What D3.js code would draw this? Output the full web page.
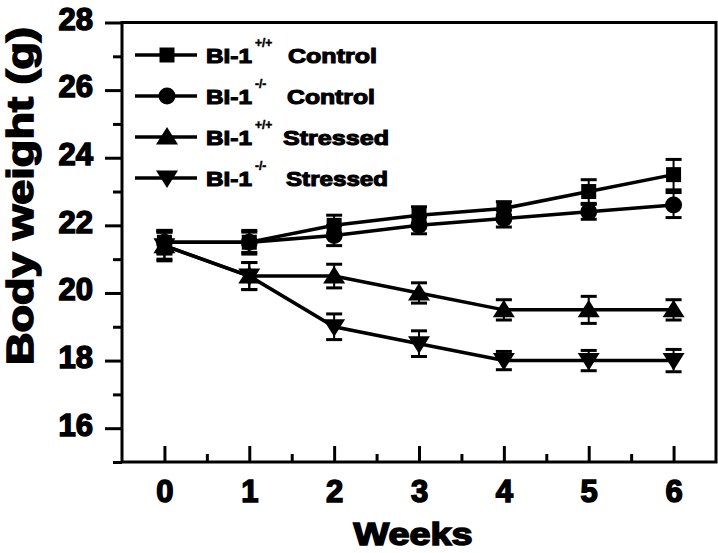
<!DOCTYPE html>
<html>
<head>
<meta charset="utf-8">
<script src="https://cdn.jsdelivr.net/npm/d3@7"></script>
<style>
  body { margin: 0; background: #fff; }
  text { font-family: "Liberation Sans", Arial, sans-serif; font-weight: bold; fill: #000; }
</style>
</head>
<body>
<div id="chart"></div>
<script>
// weeks on the x axis
var weeks = [0, 1, 2, 3, 4, 5, 6];
var yTicks = [16, 18, 20, 22, 24, 26, 28];

// mean body weight (g) and error per group
var wtControl = [21.5, 21.5, 22.0, 22.3, 22.5, 23.0, 23.5];
var wtControlErr = [0.35, 0.3, 0.3, 0.25, 0.2, 0.35, 0.45];
var koControl = [21.5, 21.5, 21.7, 22.0, 22.2, 22.4, 22.6];
var koControlErr = [0.3, 0.35, 0.3, 0.25, 0.25, 0.22, 0.37];
var wtStressed = [21.4, 20.5, 20.5, 20.0, 19.5, 19.5, 19.5];
var wtStressedErr = [0.4, 0.4, 0.35, 0.3, 0.3, 0.4, 0.3];
var koStressed = [21.4, 20.5, 19.0, 18.5, 18.0, 18.0, 18.0];
var koStressedErr = [0.45, 0.4, 0.38, 0.38, 0.27, 0.3, 0.33];

var series = [
    { sup: "+/+", label: "Control", shape: "square", values: wtControl, err: wtControlErr },
    { sup: "-/-", label: "Control", shape: "circle", values: koControl, err: koControlErr },
    { sup: "+/+", label: "Stressed", shape: "up", values: wtStressed, err: wtStressedErr },
    { sup: "-/-", label: "Stressed", shape: "down", values: koStressed, err: koStressedErr }
];

var W = 718, H = 553;
var margin = { left: 122, right: 716, top: 22.5, bottom: 462 };

var svg = d3.select("#chart").append("svg")
    .attr("width", W)
    .attr("height", H);

var x = d3.scaleLinear().domain([-0.5, 6.5]).range([margin.left, margin.right]);
var y = d3.scaleLinear().domain([15, 28]).range([margin.bottom, margin.top]);

// marker path for each shape
function markerPath(shape) {
    switch (shape) {
        case "square": return "M-7.5,-7.5H7.5V7.5H-7.5Z";
        case "circle": return "M8.5,0A8.5,8.5 0 1,1 -8.5,0A8.5,8.5 0 1,1 8.5,0Z";
        case "up": return "M0,-10L11,7.5H-11Z";
        case "down": return "M0,10L11,-7.5H-11Z";
    }
}

// axes (ticks drawn by d3, then thickened)
var yAxis = d3.axisLeft(y).tickValues(yTicks).tickSize(17).tickFormat(d3.format("d")).tickPadding(12);
var yMinor = d3.axisLeft(y).tickValues(d3.range(15, 28, 2)).tickSize(9).tickFormat("");
var xAxis = d3.axisBottom(x).tickValues(weeks).tickSize(-16).tickFormat(d3.format("d")).tickPadding(40);
var xMinor = d3.axisBottom(x).tickValues([0.5, 1.5, 2.5, 3.5, 4.5, 5.5]).tickSize(-8).tickFormat("");

function styleAxis(g) {
    g.select(".domain").remove();
    g.selectAll(".tick line").attr("stroke", "#000").attr("stroke-width", 3);
    g.selectAll(".tick text")
        .style("font-size", "31px")
        .attr("stroke", "#000")
        .attr("stroke-width", 1.5)
        .attr("fill", "#000");
}

svg.append("g").attr("transform", "translate(" + margin.left + ",0)").call(yMinor).call(styleAxis);
svg.append("g").attr("transform", "translate(" + margin.left + ",0)").call(yAxis).call(styleAxis)
    .selectAll(".tick text").attr("dy", "0.22em");
svg.append("g").attr("transform", "translate(0," + margin.bottom + ")").call(xMinor).call(styleAxis);
svg.append("g").attr("transform", "translate(0," + margin.bottom + ")").call(xAxis).call(styleAxis)
    .selectAll(".tick text").attr("dy", "0");

// frame
svg.append("rect")
    .attr("x", margin.left).attr("y", margin.top)
    .attr("width", margin.right - margin.left).attr("height", margin.bottom - margin.top)
    .attr("fill", "none").attr("stroke", "#000").attr("stroke-width", 3);

// axis titles
svg.append("text")
    .attr("x", 413)
    .attr("y", 545)
    .attr("text-anchor", "middle")
    .attr("textLength", 119)
    .attr("lengthAdjust", "spacingAndGlyphs")
    .attr("stroke", "#000").attr("stroke-width", 1.6)
    .style("font-size", "32px")
    .text("Weeks");

svg.append("text")
    .attr("transform", "translate(33,196) rotate(-90)")
    .attr("text-anchor", "middle")
    .attr("textLength", 338)
    .attr("lengthAdjust", "spacingAndGlyphs")
    .attr("stroke", "#000").attr("stroke-width", 1.6)
    .style("font-size", "37px")
    .text("Body weight (g)");

var line = d3.line()
    .x(function(d, i) { return x(weeks[i]); })
    .y(function(d) { return y(d); });

// lines
series.forEach(function(s) {
    svg.append("path")
        .datum(s.values)
        .attr("d", line)
        .attr("fill", "none")
        .attr("stroke", "#000")
        .attr("stroke-width", 3.5);
});

// error bars
series.forEach(function(s) {
    var g = svg.append("g");
    s.values.forEach(function(v, i) {
        var cx = x(weeks[i]);
        g.append("line")
            .attr("x1", cx).attr("x2", cx)
            .attr("y1", y(v - s.err[i])).attr("y2", y(v + s.err[i]))
            .attr("stroke", "#000").attr("stroke-width", 2);
        [v - s.err[i], v + s.err[i]].forEach(function(e) {
            g.append("line")
                .attr("x1", cx - 8).attr("x2", cx + 8)
                .attr("y1", y(e)).attr("y2", y(e))
                .attr("stroke", "#000").attr("stroke-width", 3);
        });
    });
});

// markers
series.forEach(function(s) {
    svg.append("g").selectAll("path")
        .data(s.values)
        .join("path")
        .attr("transform", function(d, i) { return "translate(" + x(weeks[i]) + "," + y(d) + ")"; })
        .attr("d", markerPath(s.shape))
        .attr("fill", "#000");
});

// legend
var legendRows = [55, 96, 137, 178];
var labelX = [288, 287, 283, 286];
var labelW = [89, 88, 106, 102];
series.forEach(function(s, i) {
    var ly = legendRows[i];
    var lg = svg.append("g").attr("class", "legend");
    lg.append("line")
        .attr("x1", 135).attr("x2", 197)
        .attr("y1", ly).attr("y2", ly)
        .attr("stroke", "#000").attr("stroke-width", 3.5);
    lg.append("path")
        .attr("transform", "translate(167," + ly + ")")
        .attr("d", markerPath(s.shape))
        .attr("fill", "#000");
    lg.append("text")
        .attr("x", 206).attr("y", ly + 8)
        .attr("textLength", 46).attr("lengthAdjust", "spacingAndGlyphs")
        .attr("stroke", "#000").attr("stroke-width", 1.1)
        .style("font-size", "21px")
        .text("BI-1");
    lg.append("text")
        .attr("x", 255).attr("y", ly - 8)
        .attr("stroke", "#000").attr("stroke-width", 0.5)
        .style("font-size", "12px")
        .text(s.sup);
    lg.append("text")
        .attr("x", labelX[i]).attr("y", ly + 8)
        .attr("textLength", labelW[i]).attr("lengthAdjust", "spacingAndGlyphs")
        .attr("stroke", "#000").attr("stroke-width", 1.1)
        .style("font-size", "21px")
        .text(s.label);
});
</script>
</body>
</html>
